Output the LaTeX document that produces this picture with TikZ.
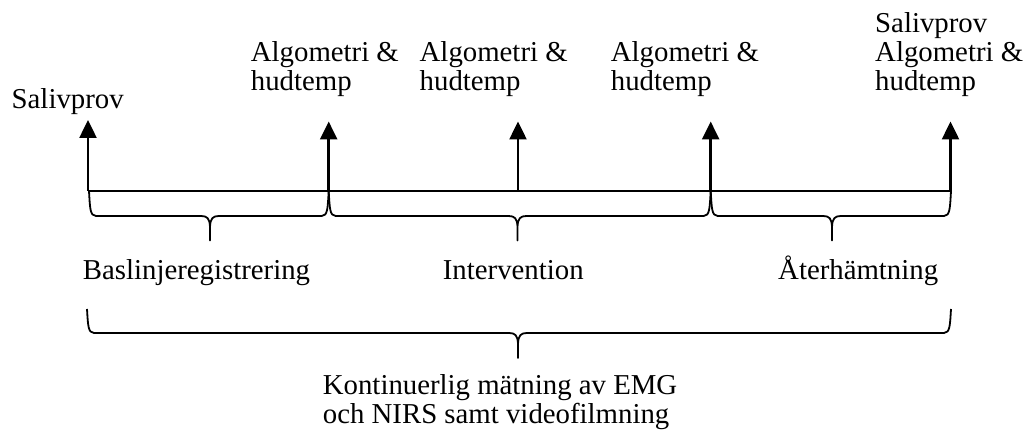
\documentclass[tikz,border=0pt]{standalone}
\usepackage{fontspec}
\setmainfont{Liberation Serif}
\usetikzlibrary{arrows.meta}

% curly brace opening downwards: left x, right x, tip x, top y, bar y, tip y
\newcommand{\timebrace}[6]{%
  \draw[bracestyle]
    (#1,#4) .. controls (#1+1,#5-8) and (#1+1,#5) .. (#1+7,#5)
    -- (#3-9,#5) .. controls (#3-3,#5) and (#3,#5+2) .. (#3,#5+12)
    -- (#3,#6) -- (#3,#5+12)
    .. controls (#3,#5+2) and (#3+3,#5) .. (#3+9,#5)
    -- (#2-7,#5) .. controls (#2-1,#5) and (#2-1,#5-8) .. (#2,#4);}

\begin{document}
\begin{tikzpicture}[x=1pt,y=-1pt,
  txt/.style={anchor=base west,inner sep=0pt,font=\fontsize{28.8}{28.5}\selectfont},
  marker/.style={line width=2.5pt,-{Triangle[length=18pt,width=17pt]}},
  timeline/.style={line width=2pt},
  bracestyle/.style={line width=1.8pt,line join=round}]
\useasboundingbox (0,0) rectangle (1026,435);

% points on the time axis
\coordinate (t1) at (88,191);
\coordinate (t2) at (328.7,191);
\coordinate (t3) at (518,191);
\coordinate (t4) at (710.7,191);
\coordinate (t5) at (950.5,191);

% arrow tips
\coordinate (a1) at (88,120);
\coordinate (a2) at (328.7,121.5);
\coordinate (a3) at (518,121.5);
\coordinate (a4) at (710.7,121.5);
\coordinate (a5) at (950.5,121.5);

% labels above the axis
\node[txt] (l1) at (11.5,108.5) {Salivprov};
\node[txt] (l2) at (250.7,62) {\begin{tabular}[t]{@{}l@{}}Algometri \&\\hudtemp\end{tabular}};
\node[txt] (l3) at (419.5,62) {\begin{tabular}[t]{@{}l@{}}Algometri \&\\hudtemp\end{tabular}};
\node[txt] (l4) at (610.7,62) {\begin{tabular}[t]{@{}l@{}}Algometri \&\\hudtemp\end{tabular}};
\node[txt] (l5) at (875,33) {\begin{tabular}[t]{@{}l@{}}Salivprov\\Algometri \&\\hudtemp\end{tabular}};

% time axis and measurement markers
\draw[timeline] (t1) -- (t5);
\foreach \i in {1,...,5}
  \draw[marker] (t\i) -- (a\i);

% phase braces
\timebrace{89}{328.7}{210}{191}{216}{240.5}
\timebrace{328.7}{710.7}{517.5}{191}{216}{240.5}
\timebrace{710.7}{951}{832}{191}{216}{240.5}

% phase labels
\node[txt] (p1) at (82.7,279.3) {Baslinjeregistrering};
\node[txt] (p2) at (442.7,279.3) {Intervention};
\node[txt] (p3) at (778,279.3) {Återhämtning};

% whole-session brace
\timebrace{87}{951}{518}{309}{333}{358}
\node[txt] (p4) at (322.7,394.5) {\begin{tabular}[t]{@{}l@{}}Kontinuerlig mätning av EMG\\och NIRS samt videofilmning\end{tabular}};
\end{tikzpicture}
\end{document}
